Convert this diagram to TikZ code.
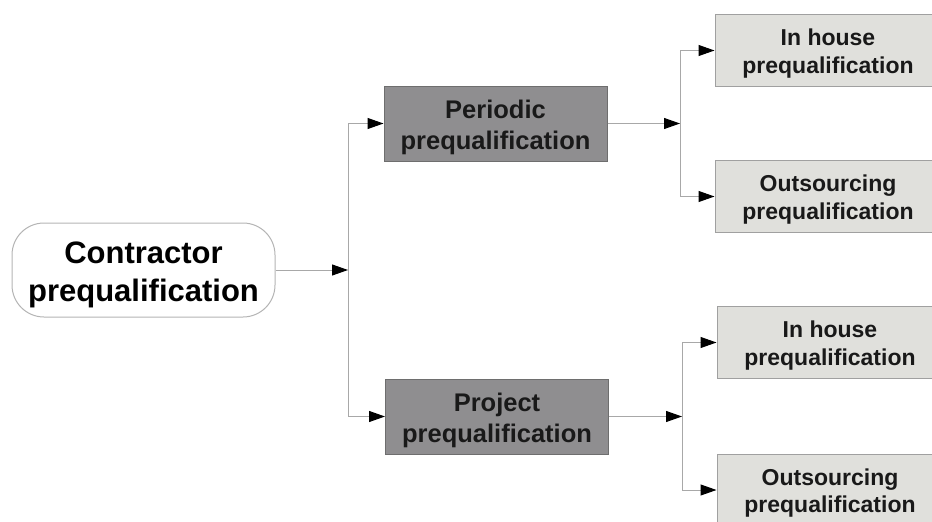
\documentclass[tikz,border=0pt]{standalone}
\usepackage{fontspec}
\setmainfont{Liberation Sans}
\usetikzlibrary{arrows.meta}
\definecolor{linegray}{HTML}{A8A8A8}
\definecolor{darkfill}{HTML}{8F8E90}
\definecolor{darkedge}{HTML}{6E6E6E}
\definecolor{lightfill}{HTML}{E0E0DC}
\definecolor{lightedge}{HTML}{A0A0A0}
\definecolor{roundedge}{HTML}{B4B4B4}
% a strut that lowers the first line a little inside each box
\newcommand{\toplift}{\rule{0pt}{1em}}
\tikzset{
  startbox/.style={draw=roundedge, line width=1pt, fill=white, rounded corners=32pt,
    minimum width=263pt, minimum height=94pt, inner sep=0pt, align=center,
    font=\fontsize{31}{38}\selectfont\bfseries},
  darkbox/.style={draw=darkedge, line width=1pt, fill=darkfill,
    minimum width=223pt, minimum height=75pt, inner sep=0pt, align=center,
    font=\fontsize{25.5}{31}\selectfont\bfseries, text=black!90},
  lightbox/.style={draw=lightedge, line width=1pt, fill=lightfill,
    minimum width=226pt, minimum height=72pt, inner sep=0pt, align=center,
    font=\fontsize{23}{27.5}\selectfont\bfseries, text=black!90},
  link/.style={draw=linegray, line width=1pt},
  feed/.style={link, -{Triangle[length=16pt,width=11pt,fill=black,color=black]}}
}
\begin{document}
\begin{tikzpicture}[x=1pt, y=-1pt]
  \useasboundingbox (0,0) rectangle (932,522);
  \clip (0,0) rectangle (932,522);

  % boxes
  \node[startbox] (contr)    at (143.5,270)   {\toplift Contractor\\prequalification};
  \node[darkbox]  (periodic) at (495.5,123.5) {\toplift Periodic\\prequalification};
  \node[darkbox]  (project)  at (497,416.5)   {\toplift Project\\prequalification};
  \node[lightbox] (house1)   at (828,50.5)    {\toplift In house\\prequalification};
  \node[lightbox] (out1)     at (828,196.5)   {\toplift Outsourcing\\prequalification};
  \node[lightbox] (house2)   at (830,342.5)   {\toplift In house\\prequalification};
  \node[lightbox] (out2)     at (830,490)     {\toplift Outsourcing\\prequalification};

  % junction points on the vertical rails
  \coordinate (j1) at (348,270);
  \coordinate (j2) at (680,123.5);
  \coordinate (j3) at (682,416.5);

  % first split
  \draw[feed] (contr) -- (j1);
  \draw[link] (j1 |- periodic) -- (j1 |- project);
  \draw[feed] (j1 |- periodic) -- (periodic);
  \draw[feed] (j1 |- project) -- (project);

  % periodic branch
  \draw[feed] (periodic) -- (j2);
  \draw[link] (j2 |- house1) -- (j2 |- out1);
  \draw[feed] (j2 |- house1) -- (house1);
  \draw[feed] (j2 |- out1) -- (out1);

  % project branch
  \draw[feed] (project) -- (j3);
  \draw[link] (j3 |- house2) -- (j3 |- out2);
  \draw[feed] (j3 |- house2) -- (house2);
  \draw[feed] (j3 |- out2) -- (out2);
\end{tikzpicture}
\end{document}
